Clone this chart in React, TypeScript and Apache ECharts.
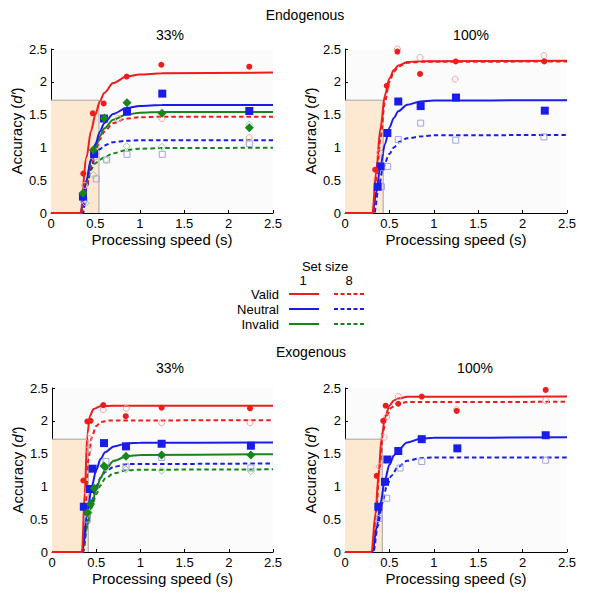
import React, { useEffect, useRef } from "react";
import * as echarts from "echarts";

type P = [number, number][];

// ---------- texts ----------
const groupTitles = ["Endogenous", "Exogenous"];
const panelTitles = ["33%", "100%", "33%", "100%"];
const legendRows = ["Valid", "Neutral", "Invalid"];
const setSizes = ["1", "8"];
const legendHeader = "Set size";
const xName = "Processing speed (s)";

// ---------- shaded region (x extent, y extent) ----------
const shadeRight = [0.54, 0.43, 0.41, 0.42];
const shadeTop = [1.72, 1.72, 1.72, 1.72];

// ---------- Endogenous 33% ----------
const endo33ValidS1Fit: P = [[0, 0], [0.3, 0], [0.33, 0], [0.4, 0.85], [0.45, 1.25], [0.5, 1.5], [0.55, 1.7], [0.6, 1.83], [0.7, 1.98], [0.85, 2.08], [1.0, 2.11], [1.25, 2.13], [2.5, 2.14]];
const endo33ValidS8Fit: P = [[0, 0], [0.31, 0], [0.34, 0], [0.4, 0.42], [0.45, 0.72], [0.5, 0.95], [0.55, 1.12], [0.6, 1.24], [0.7, 1.37], [0.85, 1.44], [1.0, 1.46], [1.25, 1.468], [2.5, 1.468]];
const endo33NeutralS1Fit: P = [[0, 0], [0.3, 0], [0.33, 0], [0.4, 0.5], [0.45, 0.82], [0.5, 1.05], [0.55, 1.24], [0.6, 1.37], [0.7, 1.51], [0.85, 1.6], [1.0, 1.63], [1.25, 1.645], [2.5, 1.646]];
const endo33NeutralS8Fit: P = [[0, 0], [0.33, 0], [0.36, 0], [0.4, 0.38], [0.45, 0.68], [0.5, 0.86], [0.55, 0.97], [0.6, 1.03], [0.7, 1.08], [0.85, 1.1], [1.0, 1.11], [2.5, 1.11]];
const endo33InvalidS1Fit: P = [[0, 0], [0.3, 0], [0.33, 0], [0.4, 0.48], [0.45, 0.8], [0.5, 1.0], [0.55, 1.17], [0.6, 1.29], [0.7, 1.42], [0.85, 1.5], [1.0, 1.53], [1.25, 1.54], [2.5, 1.54]];
const endo33InvalidS8Fit: P = [[0, 0], [0.33, 0], [0.36, 0], [0.4, 0.4], [0.45, 0.66], [0.5, 0.76], [0.55, 0.81], [0.6, 0.85], [0.7, 0.91], [0.85, 0.96], [1.0, 0.98], [1.25, 0.99], [2.5, 0.995]];
const endo33ValidS1Pts: P = [[0.364, 0.6], [0.47, 1.52], [0.593, 1.67], [0.852, 2.08], [1.242, 2.26], [2.233, 2.23]];
const endo33ValidS8Pts: P = [[0.38, 0.42], [0.49, 0.85], [0.758, 1.44], [1.25, 1.44], [2.233, 1.15]];
const endo33NeutralS1Pts: P = [[0.36, 0.25], [0.484, 0.9], [0.597, 1.44], [0.856, 1.545], [1.253, 1.82], [2.233, 1.555]];
const endo33NeutralS8Pts: P = [[0.37, 0.2], [0.51, 0.52], [0.627, 0.81], [0.856, 0.895], [1.253, 0.895], [2.233, 1.06]];
const endo33InvalidS1Pts: P = [[0.36, 0.3], [0.476, 0.96], [0.6, 1.45], [0.856, 1.68], [1.25, 1.52], [2.233, 1.3]];
const endo33InvalidS8Pts: P = [[0.39, 0.15], [0.476, 0.58], [0.62, 0.81], [0.852, 1.02], [1.25, 1.01], [2.233, 1.35]];

// ---------- Endogenous 100% ----------
const endo100ValidS1Fit: P = [[0, 0], [0.28, 0], [0.31, 0], [0.35, 0.62], [0.4, 1.3], [0.45, 1.8], [0.5, 2.05], [0.55, 2.18], [0.6, 2.25], [0.7, 2.3], [0.85, 2.315], [2.5, 2.32]];
const endo100ValidS8Fit: P = [[0, 0], [0.29, 0], [0.32, 0], [0.36, 0.6], [0.4, 1.15], [0.45, 1.7], [0.5, 2.0], [0.55, 2.15], [0.6, 2.23], [0.7, 2.29], [0.85, 2.305], [2.5, 2.31]];
const endo100NeutralS1Fit: P = [[0, 0], [0.28, 0], [0.31, 0], [0.35, 0.3], [0.4, 0.72], [0.45, 1.05], [0.5, 1.3], [0.55, 1.45], [0.6, 1.55], [0.7, 1.65], [0.85, 1.7], [1.0, 1.715], [2.5, 1.72]];
const endo100NeutralS8Fit: P = [[0, 0], [0.3, 0], [0.33, 0], [0.38, 0.4], [0.43, 0.7], [0.5, 0.9], [0.55, 1.0], [0.62, 1.09], [0.7, 1.14], [0.88, 1.17], [1.0, 1.185], [2.5, 1.19]];
const endo100ValidS1Pts: P = [[0.34, 0.66], [0.47, 1.94], [0.59, 2.46], [0.845, 2.12], [1.247, 2.31], [2.244, 2.31]];
const endo100ValidS8Pts: P = [[0.39, 0.92], [0.59, 2.5], [0.845, 2.37], [1.24, 2.04], [2.24, 2.4]];
const endo100NeutralS1Pts: P = [[0.368, 0.4], [0.4, 0.71], [0.477, 1.22], [0.6, 1.7], [0.852, 1.63], [1.25, 1.76], [2.25, 1.56]];
const endo100NeutralS8Pts: P = [[0.41, 0.4], [0.48, 0.71], [0.6, 1.12], [0.852, 1.37], [1.247, 1.11], [2.24, 1.16]];

// ---------- Exogenous 33% ----------
const exo33ValidS1Fit: P = [[0, 0], [0.31, 0], [0.34, 0], [0.37, 0.9], [0.4, 1.8], [0.43, 2.08], [0.47, 2.18], [0.55, 2.22], [0.7, 2.23], [2.5, 2.23]];
const exo33ValidS8Fit: P = [[0, 0], [0.32, 0], [0.35, 0], [0.38, 0.7], [0.41, 1.4], [0.45, 1.75], [0.5, 1.92], [0.55, 1.98], [0.65, 2.005], [2.5, 2.01]];
const exo33NeutralS1Fit: P = [[0, 0], [0.31, 0], [0.34, 0], [0.4, 0.6], [0.45, 1.0], [0.5, 1.25], [0.55, 1.42], [0.6, 1.52], [0.7, 1.61], [0.85, 1.655], [1.0, 1.665], [2.5, 1.67]];
const exo33NeutralS8Fit: P = [[0, 0], [0.32, 0], [0.35, 0], [0.4, 0.45], [0.45, 0.78], [0.5, 1.0], [0.55, 1.13], [0.6, 1.22], [0.7, 1.3], [0.85, 1.34], [2.5, 1.35]];
const exo33InvalidS1Fit: P = [[0, 0], [0.31, 0], [0.34, 0], [0.4, 0.42], [0.45, 0.72], [0.5, 0.95], [0.55, 1.13], [0.6, 1.25], [0.7, 1.39], [0.85, 1.46], [1.0, 1.48], [2.5, 1.49]];
const exo33InvalidS8Fit: P = [[0, 0], [0.32, 0], [0.35, 0], [0.4, 0.4], [0.45, 0.68], [0.5, 0.88], [0.55, 1.02], [0.6, 1.12], [0.7, 1.2], [0.85, 1.245], [1.0, 1.255], [2.5, 1.26]];
const exo33ValidS1Pts: P = [[0.354, 1.09], [0.4, 1.99], [0.437, 2.0], [0.58, 2.24], [0.834, 2.07], [1.24, 2.2], [2.24, 2.19]];
const exo33ValidS8Pts: P = [[0.41, 1.56], [0.42, 1.73], [0.58, 2.17], [0.84, 2.19], [1.24, 1.97], [2.24, 1.97]];
const exo33NeutralS1Pts: P = [[0.36, 0.69], [0.43, 0.96], [0.46, 1.27], [0.588, 1.66], [0.837, 1.61], [1.24, 1.65], [2.25, 1.62]];
const exo33NeutralS8Pts: P = [[0.4, 0.5], [0.61, 1.38], [0.837, 1.3], [1.24, 1.44], [2.25, 1.28]];
const exo33InvalidS1Pts: P = [[0.4, 0.6], [0.437, 0.73], [0.48, 0.97], [0.588, 1.31], [0.837, 1.46], [1.24, 1.48], [2.25, 1.48]];
const exo33InvalidS8Pts: P = [[0.42, 0.6], [0.61, 1.28], [0.837, 1.26], [1.24, 1.24], [2.25, 1.23]];

// ---------- Exogenous 100% ----------
const exo100ValidS1Fit: P = [[0, 0], [0.27, 0], [0.3, 0], [0.34, 0.55], [0.38, 1.2], [0.41, 1.72], [0.45, 2.05], [0.5, 2.23], [0.55, 2.31], [0.6, 2.34], [0.7, 2.365], [2.5, 2.37]];
const exo100ValidS8Fit: P = [[0, 0], [0.28, 0], [0.31, 0], [0.35, 0.6], [0.39, 1.3], [0.43, 1.85], [0.47, 2.08], [0.52, 2.2], [0.58, 2.26], [0.7, 2.285], [2.5, 2.29]];
const exo100NeutralS1Fit: P = [[0, 0], [0.28, 0], [0.31, 0], [0.36, 0.4], [0.4, 0.75], [0.45, 1.1], [0.5, 1.33], [0.55, 1.47], [0.6, 1.56], [0.7, 1.67], [0.85, 1.725], [1.0, 1.74], [2.5, 1.75]];
const exo100NeutralS8Fit: P = [[0, 0], [0.29, 0], [0.32, 0], [0.37, 0.4], [0.42, 0.75], [0.47, 1.0], [0.52, 1.16], [0.6, 1.3], [0.7, 1.39], [0.85, 1.43], [1.0, 1.44], [2.5, 1.44]];
const exo100ValidS1Pts: P = [[0.357, 1.16], [0.43, 2.0], [0.458, 2.23], [0.6, 2.26], [0.864, 2.37], [1.258, 2.15], [2.26, 2.47]];
const exo100ValidS8Pts: P = [[0.39, 1.3], [0.44, 1.75], [0.47, 2.06], [0.6, 2.37], [1.258, 2.17], [2.26, 2.31]];
const exo100NeutralS1Pts: P = [[0.375, 0.69], [0.45, 1.07], [0.477, 1.41], [0.6, 1.54], [0.864, 1.72], [1.265, 1.58], [2.26, 1.78]];
const exo100NeutralS8Pts: P = [[0.386, 0.51], [0.47, 0.82], [0.62, 1.28], [0.864, 1.38], [2.26, 1.4]];

// ---------- style ----------
const FONT = "'Liberation Sans', Arial, Helvetica, sans-serif";
const RED = "#ef1c1c";
const BLUE = "#1a1cec";
const GREEN = "#17861a";
const RED_PALE = "#f2a2a2";
const BLUE_PALE = "#a3a3e6";
const GREEN_PALE = "#9fcca0";

const GRIDS = [
  { left: 51, top: 49, width: 222, height: 164 },
  { left: 345, top: 49, width: 222, height: 164 },
  { left: 52, top: 388, width: 221, height: 164 },
  { left: 345, top: 388, width: 222, height: 164 },
];

type Cond = {
  s1Fit: P; s8Fit: P; s1Pts: P; s8Pts: P;
  color: string; pale: string; symbol: string; size: number; openSize: number;
};

const mk = (s1Fit: P, s8Fit: P, s1Pts: P, s8Pts: P, kind: "valid" | "neutral" | "invalid"): Cond => {
  if (kind === "valid") return { s1Fit, s8Fit, s1Pts, s8Pts, color: RED, pale: RED_PALE, symbol: "circle", size: 6, openSize: 6 };
  if (kind === "neutral") return { s1Fit, s8Fit, s1Pts, s8Pts, color: BLUE, pale: BLUE_PALE, symbol: "rect", size: 8, openSize: 6 };
  return { s1Fit, s8Fit, s1Pts, s8Pts, color: GREEN, pale: GREEN_PALE, symbol: "diamond", size: 9, openSize: 7 };
};

const PANELS: Cond[][] = [
  [
    mk(endo33InvalidS1Fit, endo33InvalidS8Fit, endo33InvalidS1Pts, endo33InvalidS8Pts, "invalid"),
    mk(endo33NeutralS1Fit, endo33NeutralS8Fit, endo33NeutralS1Pts, endo33NeutralS8Pts, "neutral"),
    mk(endo33ValidS1Fit, endo33ValidS8Fit, endo33ValidS1Pts, endo33ValidS8Pts, "valid"),
  ],
  [
    mk(endo100NeutralS1Fit, endo100NeutralS8Fit, endo100NeutralS1Pts, endo100NeutralS8Pts, "neutral"),
    mk(endo100ValidS1Fit, endo100ValidS8Fit, endo100ValidS1Pts, endo100ValidS8Pts, "valid"),
  ],
  [
    mk(exo33InvalidS1Fit, exo33InvalidS8Fit, exo33InvalidS1Pts, exo33InvalidS8Pts, "invalid"),
    mk(exo33NeutralS1Fit, exo33NeutralS8Fit, exo33NeutralS1Pts, exo33NeutralS8Pts, "neutral"),
    mk(exo33ValidS1Fit, exo33ValidS8Fit, exo33ValidS1Pts, exo33ValidS8Pts, "valid"),
  ],
  [
    mk(exo100NeutralS1Fit, exo100NeutralS8Fit, exo100NeutralS1Pts, exo100NeutralS8Pts, "neutral"),
    mk(exo100ValidS1Fit, exo100ValidS8Fit, exo100ValidS1Pts, exo100ValidS8Pts, "valid"),
  ],
];

function buildOption() {
  const grid = GRIDS.map((g) => ({ ...g, show: true, backgroundColor: "#fbfbfc", borderWidth: 0 }));
  const axisCommon = {
    type: "value",
    min: 0,
    max: 2.5,
    interval: 0.5,
    axisLine: { show: true, onZero: false, lineStyle: { color: "#000", width: 1 } },
    axisTick: { show: true, inside: true, length: 3, lineStyle: { color: "#000" } },
    axisLabel: { color: "#000", fontSize: 13, fontFamily: FONT, margin: 4, formatter: (v: number) => String(v) },
    splitLine: { show: false },
  };
  const xAxis = GRIDS.map((_, i) => ({
    ...axisCommon,
    gridIndex: i,
    name: xName,
    nameLocation: "middle",
    nameGap: 19,
    nameTextStyle: { color: "#000", fontSize: 15, fontFamily: FONT },
  }));
  const yAxis = GRIDS.map((_, i) => ({
    ...axisCommon,
    gridIndex: i,
    name: "{a|Accuracy (}{i|d′}{a|)}",
    nameLocation: "middle",
    nameGap: 27,
    nameTextStyle: {
      color: "#000",
      rich: {
        a: { fontSize: 15, fontFamily: FONT, color: "#000" },
        i: { fontSize: 15, fontFamily: FONT, fontStyle: "italic", color: "#000" },
      },
    },
  }));

  const series: any[] = [];
  PANELS.forEach((conds, i) => {
    series.push({
      type: "line",
      xAxisIndex: i,
      yAxisIndex: i,
      data: [[0, shadeTop[i]], [shadeRight[i], shadeTop[i]], [shadeRight[i], 0]],
      symbol: "none",
      lineStyle: { color: "#a3a3a3", width: 1 },
      areaStyle: { color: "#fde9d1", opacity: 1, origin: "start" },
      z: 1,
      silent: true,
    });
    const fit = (data: P, color: string, dashed: boolean) => ({
      type: "line",
      xAxisIndex: i,
      yAxisIndex: i,
      data,
      smooth: 0.3,
      smoothMonotone: "x",
      symbol: "none",
      showSymbol: false,
      lineStyle: { color, width: 2, type: dashed ? [4.5, 3] : "solid" },
      z: dashed ? 3 : 4,
      silent: true,
    });
    conds.forEach((c) => series.push(fit(c.s8Fit, c.color, true)));
    conds.forEach((c) => series.push(fit(c.s1Fit, c.color, false)));
    conds.forEach((c) =>
      series.push({
        type: "scatter",
        xAxisIndex: i,
        yAxisIndex: i,
        data: c.s8Pts,
        symbol: c.symbol,
        symbolSize: c.openSize,
        itemStyle: { color: "rgba(255,255,255,0)", borderColor: c.pale, borderWidth: 1, opacity: 1 },
        z: 5,
        silent: true,
      })
    );
    // neutral first, invalid on top of it, valid on top
    const order = ["rect", "diamond", "circle"];
    [...conds]
      .sort((a, b) => order.indexOf(a.symbol) - order.indexOf(b.symbol))
      .forEach((c) =>
        series.push({
          type: "scatter",
          xAxisIndex: i,
          yAxisIndex: i,
          data: c.s1Pts,
          symbol: c.symbol,
          symbolSize: c.size,
          itemStyle: { color: c.color, opacity: 1 },
          z: 6,
          silent: true,
        })
      );
  });

  const txt = (text: string, x: number, y: number, size: number, align = "center") => ({
    type: "text",
    x,
    y,
    silent: true,
    style: { text, fill: "#000", fontSize: size, fontFamily: FONT, align, verticalAlign: "middle" },
  });
  const legendY = [294, 309, 324];
  const legendColors = [RED, BLUE, GREEN];
  const graphic: any[] = [
    txt(groupTitles[0], 305, 15, 14),
    txt(groupTitles[1], 311, 352, 14),
    txt(panelTitles[0], 170, 35, 14),
    txt(panelTitles[1], 471, 35, 14),
    txt(panelTitles[2], 170, 368, 14),
    txt(panelTitles[3], 475, 368, 14),
    txt(legendHeader, 325, 266, 13),
    txt(setSizes[0], 303, 280, 13),
    txt(setSizes[1], 349, 280, 13),
  ];
  legendRows.forEach((r, k) => {
    graphic.push(txt(r, 279, legendY[k], 13, "right"));
    graphic.push({
      type: "line",
      silent: true,
      shape: { x1: 289, y1: legendY[k], x2: 319, y2: legendY[k] },
      style: { stroke: legendColors[k], lineWidth: 2 },
    });
    graphic.push({
      type: "line",
      silent: true,
      shape: { x1: 334, y1: legendY[k], x2: 364, y2: legendY[k] },
      style: { stroke: legendColors[k], lineWidth: 2, lineDash: [4, 2.5] },
    });
  });

  return { animation: false, backgroundColor: "#fff", grid, xAxis, yAxis, series, graphic };
}

export default function App() {
  const ref = useRef<HTMLDivElement>(null);
  useEffect(() => {
    document.body.style.margin = "0";
    if (!ref.current) return;
    const chart = echarts.init(ref.current, undefined, { renderer: "svg" });
    chart.setOption(buildOption() as any);
    return () => chart.dispose();
  }, []);
  return <div ref={ref} style={{ width: 589, height: 600 }} />;
}
